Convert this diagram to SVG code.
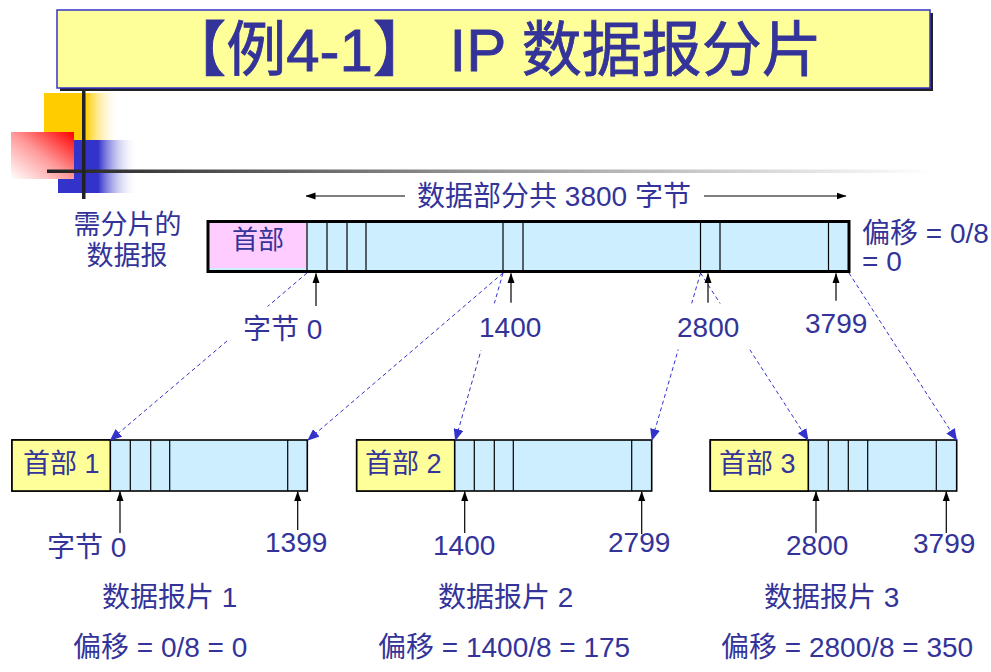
<svg xmlns="http://www.w3.org/2000/svg" width="991" height="672" viewBox="0 0 991 672">
<defs>
<style>
.t{font-family:"Liberation Sans","Noto Sans CJK SC",sans-serif;fill:#333399;}
.f28{font-size:28px;}
.f27{font-size:27px;}
.f26{font-size:26px;}
.bar{fill:#cceeff;stroke:#000;stroke-width:1.6;}
.mainbar{fill:#cceeff;stroke:#000;stroke-width:3;}
.div{stroke:#000;stroke-width:1.2;}
.hdr{fill:#ffff99;stroke:#000;stroke-width:1.6;}
.dash{stroke:#3333cc;stroke-width:1;stroke-dasharray:4 3;fill:none;marker-end:url(#ab);}
.up{stroke:#000;stroke-width:1.2;fill:none;marker-end:url(#ak);}
.mask{fill:#fff;}
</style>
<marker id="ab" markerUnits="userSpaceOnUse" markerWidth="12" markerHeight="10" viewBox="0 0 12 10" refX="11" refY="5" orient="auto">
<path d="M0,0 L12,5 L0,10 Z" fill="#3333cc"/>
</marker>
<marker id="ak" markerUnits="userSpaceOnUse" markerWidth="10" markerHeight="8" viewBox="0 0 10 8" refX="9.5" refY="4" orient="auto">
<path d="M0,0.5 L10,4 L0,7.5 Z" fill="#000"/>
</marker>
<linearGradient id="gy" x1="0" y1="0" x2="1" y2="0">
<stop offset="0" stop-color="#ffcc00"/>
<stop offset="0.55" stop-color="#ffcc00"/>
<stop offset="1" stop-color="#ffffff" stop-opacity="0"/>
</linearGradient>
<linearGradient id="gb" x1="0" y1="0" x2="1" y2="0">
<stop offset="0" stop-color="#3333cc"/>
<stop offset="0.5" stop-color="#3333cc"/>
<stop offset="1" stop-color="#ffffff" stop-opacity="0"/>
</linearGradient>
<linearGradient id="gr" x1="1" y1="0" x2="0" y2="1">
<stop offset="0" stop-color="#ff0000"/>
<stop offset="0.5" stop-color="#ff9999"/>
<stop offset="1" stop-color="#ffffff"/>
</linearGradient>
<linearGradient id="gl" x1="0" y1="0" x2="1" y2="0">
<stop offset="0" stop-color="#222222"/>
<stop offset="0.5" stop-color="#999999"/>
<stop offset="1" stop-color="#ffffff"/>
</linearGradient>
</defs>
<rect width="991" height="672" fill="#ffffff"/>

<g id="decoration">
<rect x="44" y="93" width="76" height="47" fill="url(#gy)"/>
<rect x="58" y="140" width="80" height="53" fill="url(#gb)"/>
<rect x="11" y="132" width="63" height="47" fill="url(#gr)"/>
<rect x="47" y="169.5" width="886" height="3.5" fill="url(#gl)"/>
<rect x="82" y="90" width="3.5" height="109" fill="#222"/>
</g>

<g id="title">
<rect x="60" y="13" width="873" height="78" fill="#222"/>
<rect x="57" y="10" width="873" height="78" fill="#ffff99" stroke="#3333cc" stroke-width="1.5"/>
<text class="t" x="494" y="71" font-size="60" text-anchor="middle" stroke="#333399" stroke-width="0.8">【例4-1】 IP 数据报分片</text>
</g>

<g id="main-datagram">
<rect class="mainbar" x="208" y="221.5" width="641" height="50"/>
<rect x="210" y="223" width="96.5" height="45" fill="#ffccff"/>
<line class="div" x1="307" y1="221.5" x2="307" y2="271.5"/>
<line class="div" x1="327" y1="221.5" x2="327" y2="271.5"/>
<line class="div" x1="347" y1="221.5" x2="347" y2="271.5"/>
<line class="div" x1="366" y1="221.5" x2="366" y2="271.5"/>
<line class="div" x1="503" y1="221.5" x2="503" y2="271.5"/>
<line class="div" x1="523" y1="221.5" x2="523" y2="271.5"/>
<line class="div" x1="700.5" y1="221.5" x2="700.5" y2="271.5"/>
<line class="div" x1="720" y1="221.5" x2="720" y2="271.5"/>
<line class="div" x1="828.5" y1="221.5" x2="828.5" y2="271.5"/>
<text class="t f26" x="232" y="249">首部</text>
</g>

<g id="fragment1">
<rect class="bar" x="12" y="440" width="295.3" height="51"/>
<rect class="hdr" x="12" y="440" width="98.3" height="51"/>
<line class="div" x1="130.3" y1="440" x2="130.3" y2="491"/>
<line class="div" x1="150.7" y1="440" x2="150.7" y2="491"/>
<line class="div" x1="169.7" y1="440" x2="169.7" y2="491"/>
<line class="div" x1="287.7" y1="440" x2="287.7" y2="491"/>
<text class="t f27" x="23" y="473">首部 1</text>
</g>

<g id="fragment2">
<rect class="bar" x="356.7" y="440" width="295" height="51"/>
<rect class="hdr" x="356.7" y="440" width="98" height="51"/>
<line class="div" x1="474.3" y1="440" x2="474.3" y2="491"/>
<line class="div" x1="494.3" y1="440" x2="494.3" y2="491"/>
<line class="div" x1="513.3" y1="440" x2="513.3" y2="491"/>
<line class="div" x1="631.7" y1="440" x2="631.7" y2="491"/>
<text class="t f27" x="365" y="473">首部 2</text>
</g>

<g id="fragment3">
<rect class="bar" x="710.3" y="440" width="246.4" height="51"/>
<rect class="hdr" x="710.3" y="440" width="98" height="51"/>
<line class="div" x1="828.3" y1="440" x2="828.3" y2="491"/>
<line class="div" x1="848.3" y1="440" x2="848.3" y2="491"/>
<line class="div" x1="867.7" y1="440" x2="867.7" y2="491"/>
<line class="div" x1="936.3" y1="440" x2="936.3" y2="491"/>
<text class="t f27" x="719" y="473">首部 3</text>
</g>

<g id="connectors">
<line class="dash" x1="307" y1="273" x2="110.5" y2="440"/>
<line class="dash" x1="503" y1="273" x2="308" y2="440"/>
<line class="dash" x1="503" y1="273" x2="455.5" y2="440"/>
<line class="dash" x1="700.5" y1="273" x2="652" y2="440"/>
<line class="dash" x1="700.5" y1="273" x2="808" y2="440"/>
<line class="dash" x1="849" y1="273" x2="956.5" y2="440"/>
<line class="up" x1="316" y1="306" x2="316" y2="273.5"/>
<line class="up" x1="511" y1="302.7" x2="511" y2="273.5"/>
<line class="up" x1="708" y1="302.7" x2="708" y2="273.5"/>
<line class="up" x1="836" y1="300.7" x2="836" y2="273.5"/>
<line class="up" x1="120" y1="533" x2="120" y2="491.5"/>
<line class="up" x1="297.7" y1="530" x2="297.7" y2="491.5"/>
<line class="up" x1="464.7" y1="533" x2="464.7" y2="491.5"/>
<line class="up" x1="641.7" y1="534" x2="641.7" y2="491.5"/>
<line class="up" x1="816" y1="533" x2="816" y2="491.5"/>
<line class="up" x1="946.3" y1="533" x2="946.3" y2="491.5"/>
<line class="up" x1="405" y1="196" x2="306" y2="196"/>
<line class="up" x1="704" y1="196" x2="846" y2="196"/>
</g>

<g id="labels">
<text class="t f28" x="554" y="206" text-anchor="middle">数据部分共 3800 字节</text>
<text class="t f27" x="127.5" y="234" text-anchor="middle">需分片的</text>
<text class="t f27" x="127" y="265" text-anchor="middle">数据报</text>
<text class="t f28" x="862" y="243">偏移 = 0/8</text>
<text class="t f28" x="862" y="271">= 0</text>
<rect class="mask" x="229" y="306.5" width="101" height="34"/>
<text class="t f28" x="243" y="339">字节 0</text>
<rect class="mask" x="476" y="303.5" width="70" height="47"/>
<text class="t f28" x="479" y="337">1400</text>
<rect class="mask" x="674" y="303.5" width="79" height="46"/>
<text class="t f28" x="677" y="337">2800</text>
<text class="t f28" x="805" y="333">3799</text>
<text class="t f28" x="47" y="557">字节 0</text>
<text class="t f28" x="265" y="552">1399</text>
<text class="t f28" x="433" y="555">1400</text>
<text class="t f28" x="608" y="552">2799</text>
<text class="t f28" x="786" y="555">2800</text>
<text class="t f28" x="913" y="553">3799</text>
<text class="t f28" x="102" y="607">数据报片 1</text>
<text class="t f28" x="73" y="657">偏移 = 0/8 = 0</text>
<text class="t f28" x="438" y="607">数据报片 2</text>
<text class="t f28" x="378" y="657">偏移 = 1400/8 = 175</text>
<text class="t f28" x="764" y="607">数据报片 3</text>
<text class="t f28" x="721" y="657">偏移 = 2800/8 = 350</text>
</g>
</svg>
